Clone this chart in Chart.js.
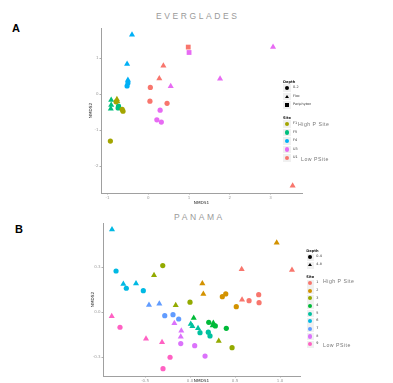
<!DOCTYPE html>
<html><head><meta charset="utf-8">
<script src="https://cdn.jsdelivr.net/npm/chart.js@4"></script>
<style>
html,body{margin:0;padding:0;background:#fff;}
body{width:393px;height:383px;position:relative;overflow:hidden;font-family:"DejaVu Sans",Arial,sans-serif;}
.wrap{position:absolute;left:0;width:393px;}
.t{position:absolute;white-space:nowrap;line-height:1;}
.panel{font-weight:bold;font-size:11px;color:#000;font-family:"Liberation Sans",Arial,sans-serif;}
.title{color:#9a9a9a;font-size:8.5px;letter-spacing:2.6px;font-family:"Liberation Sans",Arial,sans-serif;}
.lh{font-size:3.6px;font-weight:bold;color:#222;}
.ll{font-size:3.4px;color:#333;}
.note{font-size:5.2px;color:#777;letter-spacing:0.5px;font-family:"Liberation Sans",Arial,sans-serif;}
.key{position:absolute;background:#f0f0f0;}
.sh{position:absolute;}
</style>
</head><body>
<div class="t panel" style="left:12px;top:23px;">A</div>
<div class="t title" style="left:156px;top:12px;">EVERGLADES</div>
<div class="wrap" style="top:0;height:205px;"><canvas id="cA" width="393" height="205"></canvas></div>
<div class="t panel" style="left:15px;top:224px;">B</div>
<div class="t title" style="left:174px;top:213px;">PANAMA</div>
<div class="wrap" style="top:205px;height:178px;"><canvas id="cB" width="393" height="178"></canvas></div>
<div id="legend"></div>
<script>
// ---------- Everglades (A) ----------
const evgSites = ['F1', 'F5', 'F4', 'U3', 'U1'];
const evgColors = ['#A3A500', '#00BF7D', '#00B0F6', '#E76BF3', '#F8766D'];
const evgDepths = ['0-2', 'Floc', 'Periphyton'];
// points: [NMDS1, NMDS2, depth]
const evgF1 = [[-0.77,-0.14,'Floc'],[-0.76,-0.19,'Floc'],[-0.79,-0.21,'0-2'],[-0.64,-0.42,'0-2'],[-0.62,-0.47,'0-2'],[-0.93,-1.30,'0-2']];
const evgF5 = [[-0.91,-0.16,'Floc'],[-0.91,-0.30,'Floc'],[-0.92,-0.40,'Floc'],[-0.73,-0.33,'0-2'],[-0.74,-0.38,'0-2']];
const evgF4 = [[-0.40,1.65,'Floc'],[-0.52,0.84,'Floc'],[-0.50,0.40,'Floc'],[-0.50,0.31,'0-2'],[-0.52,0.23,'0-2']];
const evgU3 = [[1.00,1.16,'Periphyton'],[0.55,0.22,'Floc'],[0.29,-0.44,'0-2'],[0.21,-0.71,'0-2'],[0.32,-0.77,'0-2'],[3.06,1.31,'Floc'],[1.76,0.43,'Floc']];
const evgU1 = [[0.98,1.31,'Periphyton'],[0.37,0.79,'Floc'],[0.27,0.44,'Floc'],[0.05,0.19,'0-2'],[0.04,-0.19,'0-2'],[0.46,-0.25,'0-2'],[3.54,-2.54,'Floc']];
const evgXTicks = [-1, 0, 1, 2, 3];
const evgYTicks = [-2, -1, 0, 1];

// ---------- Panama (B) ----------
const panSites = ['1','2','3','4','5','6','7','8','9'];
const panColors = ['#F8766D','#D39200','#93AA00','#00BA38','#00C19F','#00B9E3','#619CFF','#DB72FB','#FF61C3'];
const panDepths = ['0-4', '4-8'];
const pan1 = [[0.574,0.287,'4-8'],[1.133,0.282,'4-8'],[0.578,0.084,'4-8'],[0.763,0.117,'0-4'],[0.656,0.077,'0-4'],[0.767,0.064,'0-4']];
const pan2 = [[0.963,0.464,'4-8'],[0.137,0.191,'4-8'],[0.148,0.122,'4-8'],[0.359,0.104,'0-4'],[0.397,0.122,'0-4'],[0.514,0.037,'0-4']];
const pan3 = [[-0.303,0.311,'0-4'],[-0.40,0.247,'4-8'],[-0.159,0.047,'4-8'],[0.0,0.067,'0-4'],[0.319,-0.191,'4-8'],[0.467,-0.236,'0-4']];
const pan4 = [[0.041,-0.038,'4-8'],[0.208,-0.067,'0-4'],[0.259,-0.071,'4-8'],[0.252,-0.089,'4-8'],[0.281,-0.091,'0-4'],[0.403,-0.107,'0-4']];
const pan5 = [[0.008,-0.078,'4-8'],[0.026,-0.093,'4-8'],[0.089,-0.107,'4-8'],[0.111,-0.136,'0-4'],[0.203,-0.133,'0-4'],[0.222,-0.158,'0-4']];
const pan6 = [[-0.867,0.551,'4-8'],[-0.822,0.275,'0-4'],[-0.741,0.189,'4-8'],[-0.708,0.160,'0-4'],[-0.60,0.191,'4-8'],[-0.519,0.144,'0-4']];
const pan7 = [[-0.456,0.049,'4-8'],[-0.341,0.057,'4-8'],[-0.281,-0.023,'0-4'],[-0.189,-0.016,'0-4'],[-0.126,-0.045,'0-4']];
const pan8 = [[-0.174,-0.073,'4-8'],[-0.097,-0.123,'4-8'],[-0.103,-0.163,'4-8'],[-0.103,-0.209,'0-4'],[0.052,-0.223,'0-4'],[0.167,-0.292,'0-4']];
const pan9 = [[-0.870,-0.027,'4-8'],[-0.778,-0.10,'0-4'],[-0.489,-0.176,'4-8'],[-0.311,-0.20,'4-8'],[-0.222,-0.30,'0-4'],[-0.30,-0.376,'0-4']];
const panXTicks = [-0.5, 0, 0.5, 1.0];
const panYTicks = [-0.3, 0, 0.3];

const styleOf = {'0-2':'circle','0-4':'circle','Floc':'triangle','4-8':'triangle','Periphyton':'rect'};
const radiusOf = {circle:2.6, triangle:3.5, rect:3.4};

function makeDatasets(sites, colors, pts){
  return sites.map((s,i)=>({
    label: s,
    data: pts[i].map(p=>({x:p[0], y:p[1], d:p[2]})),
    backgroundColor: colors[i],
    borderColor: colors[i],
    borderWidth: 0,
    pointStyle: c => styleOf[c.raw ? c.raw.d : '0-2'],
    pointRadius: c => radiusOf[styleOf[c.raw ? c.raw.d : '0-2']],
  }));
}

function axis(ticksArr, min, max, title, fmt, size, isY){
  return {
    type:'linear', min:min, max:max,
    afterBuildTicks: s => { s.ticks = ticksArr.map(v=>({value:v})); },
    afterFit: s => { if(isY) s.width = 14; else s.height = size; },
    ticks:{ font:{size:4, family:'DejaVu Sans'}, color:'#9a9a9a', padding:1, maxRotation:0, autoSkip:false,
            callback: v => fmt(v) },
    grid:{ drawOnChartArea:false, drawTicks:true, tickLength:1.5, color:'#b0b0b0' },
    border:{ display:true, color:'#a0a0a0', width:1 },
    title:{ display:true, text:title, font:{size:4.2, family:'DejaVu Sans'}, color:'#222', padding:{top:1,bottom:0} }
  };
}

function makeChart(id, datasets, xt, yt, xr, yr, fmt, pad, xh){
  new Chart(document.getElementById(id), {
    type:'scatter',
    data:{datasets},
    options:{
      responsive:false, animation:false, events:[],
      layout:{padding:pad},
      plugins:{legend:{display:false}, tooltip:{enabled:false}},
      scales:{
        x: axis(xt, xr[0], xr[1], 'NMDS1', fmt, xh, false),
        y: axis(yt, yr[0], yr[1], 'NMDS2', fmt, xh, true)
      }
    }
  });
}

makeChart('cA', makeDatasets(evgSites, evgColors, [evgF1, evgF5, evgF4, evgU3, evgU1]),
  evgXTicks, evgYTicks, [-1.16, 3.77], [-2.74, 1.84], v => String(v),
  {left:87, right:91, top:28, bottom:0}, 12);
makeChart('cB', makeDatasets(panSites, panColors, [pan1,pan2,pan3,pan4,pan5,pan6,pan7,pan8,pan9]),
  panXTicks, panYTicks, [-0.967, 1.222], [-0.425, 0.595], v => v.toFixed(1),
  {left:89, right:93, top:18, bottom:0}, 7);

// ---------- legends (HTML) ----------
const L = document.getElementById('legend');
function add(html){ L.insertAdjacentHTML('beforeend', html); }
function shape(kind, cx, cy, color, s){
  if(kind==='circle') return `<div class="sh" style="left:${cx-s/2}px;top:${cy-s/2}px;width:${s}px;height:${s}px;border-radius:50%;background:${color}"></div>`;
  if(kind==='rect') return `<div class="sh" style="left:${cx-s/2}px;top:${cy-s/2}px;width:${s}px;height:${s}px;background:${color}"></div>`;
  const h = s*0.9;
  return `<div class="sh" style="left:${cx-s/2}px;top:${cy-h/2}px;width:0;height:0;border-left:${s/2}px solid transparent;border-right:${s/2}px solid transparent;border-bottom:${h}px solid ${color}"></div>`;
}
function legend(x, depthTop, depths, siteTop, sites, colors, step, dstep, box){
  add(`<div class="t lh" style="left:${x-4}px;top:${depthTop}px;">Depth</div>`);
  depths.forEach((d,i)=>{
    const cy = depthTop + 7 + i*dstep;
    add(`<div class="key" style="left:${x-box/2}px;top:${cy-box/2}px;width:${box}px;height:${box}px"></div>`);
    add(shape(styleOf[d], x, cy, '#000', 4.4));
    add(`<div class="t ll" style="left:${x+6}px;top:${cy-1.8}px;">${d}</div>`);
  });
  add(`<div class="t lh" style="left:${x-4}px;top:${siteTop}px;">Site</div>`);
  sites.forEach((s,i)=>{
    const cy = siteTop + 7 + i*step;
    add(`<div class="key" style="left:${x-box/2}px;top:${cy-box/2}px;width:${box}px;height:${box}px"></div>`);
    add(shape('circle', x, cy, colors[i], 4.2));
    add(`<div class="t ll" style="left:${x+6}px;top:${cy-1.8}px;">${s}</div>`);
  });
}
legend(287, 81, evgDepths, 117, evgSites, evgColors, 8.5, 8.5, 7.5);
add(`<div class="t note" style="left:298px;top:122px;">High P Site</div>`);
add(`<div class="t note" style="left:301px;top:157px;">Low PSite</div>`);
legend(310.3, 250, panDepths, 276, panSites, panColors, 7.65, 8, 7);
add(`<div class="t note" style="left:323px;top:279px;">High P Site</div>`);
add(`<div class="t note" style="left:323px;top:343px;">Low PSite</div>`);
</script>
</body></html>
